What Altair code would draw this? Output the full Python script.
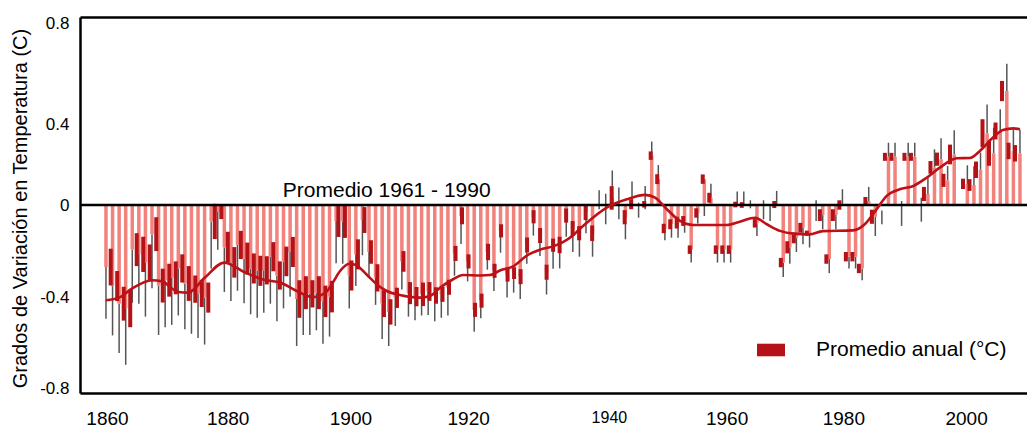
import altair as alt
import pandas as pd

# ---------------- datos ----------------
anios = list(range(1861, 2001))

# centro de la caja roja oscura (promedio anual)
anomalia = [
    -0.264, -0.345, -0.42, -0.44, -0.19, -0.21, -0.245, -0.124, -0.343, -0.32,
    -0.31, -0.27, -0.334, -0.358, -0.376, -0.394, -0.07, -0.03, -0.18, -0.244,
    -0.17, -0.228, -0.27, -0.28, -0.278, -0.22, -0.3, -0.24, -0.2, -0.4,
    -0.373, -0.378, -0.373, -0.41, -0.39, -0.068, -0.07, -0.3, -0.21, -0.064,
    -0.2, -0.31, -0.42, -0.455, -0.395, -0.24, -0.375, -0.39, -0.38, -0.368,
    -0.385, -0.38, -0.35, -0.206, -0.046, -0.24, -0.446, -0.407, -0.2, -0.28,
    -0.11, -0.296, -0.29, -0.305, -0.17, -0.05, -0.13, -0.286, -0.171, -0.17,
    -0.045, -0.1, -0.12, -0.03, -0.12, None, None, 0.03, None, -0.052,
    0.003, None, 0.003, 0.21, 0.11, -0.1, -0.082, -0.075, -0.068, -0.19,
    -0.034, 0.11, 0.031, -0.19, -0.19, -0.19, 0.002, 0.0, None, -0.078,
    None, None, 0.002, -0.245, -0.18, -0.14, -0.097, -0.12, None, -0.043,
    -0.23, -0.043, 0.0, -0.22, -0.22, -0.27, 0.017, -0.05, None, 0.205,
    0.205, None, 0.205, 0.205, None, 0.047, 0.16, 0.195, 0.105, 0.215,
    None, 0.09, 0.085, 0.15, 0.305, 0.22, 0.315, 0.485, 0.23, 0.22,
]

# semialtura de la caja roja oscura
caja = [
    .078, .064, .072, .08, .07, .075, .077, .072, .072, .07,
    .07, .06, .074, .058, .058, .064, .075, .03, .066, .065,
    .06, .068, .064, .064, .06, .062, .06, .063, .064, .08,
    .07, .058, .07, .067, .067, .068, .07, .064, .064, .055,
    .05, .058, .057, .054, .043, .044, .047, .041, .05, .04,
    .035, .032, .032, .032, .036, .03, .03, .03, .035, .03,
    .028, .03, .025, .032, .032, .028, .032, .032, .028, .035,
    .03, .032, .03, .034, .033, None, None, .05, None, .03,
    .021, None, .014, .018, .021, .02, .021, .025, .021, .018,
    .02, .02, .021, .018, .018, .018, .012, .012, None, .018,
    None, None, .015, .02, .026, .023, .021, .011, None, .025,
    .02, .025, .02, .02, .02, .02, .017, .03, None, .017,
    .017, None, .017, .017, None, .03, .027, .028, .028, .042,
    None, .022, .025, .035, .06, .053, .036, .043, .035, .035,
]

# extremos del bigote (barra de error)
bigote_inf = [
    -0.484, -0.555, -0.63, -0.68, -0.416, -0.42, -0.475, -0.354, -0.553, -0.52,
    -0.51, -0.47, -0.529, -0.548, -0.566, -0.594, -0.27, -0.19, -0.37, -0.409,
    -0.365, -0.418, -0.465, -0.48, -0.458, -0.42, -0.495, -0.44, -0.39, -0.6,
    -0.553, -0.553, -0.533, -0.59, -0.56, -0.248, -0.25, -0.44, -0.345, -0.214,
    -0.31, -0.425, -0.57, -0.6, -0.515, -0.36, -0.475, -0.49, -0.47, -0.468,
    -0.495, -0.48, -0.47, -0.301, -0.166, -0.325, -0.539, -0.482, -0.275, -0.366,
    -0.203, -0.394, -0.373, -0.4, -0.25, -0.13, -0.217, -0.381, -0.271, -0.27,
    -0.135, -0.2, -0.22, -0.12, -0.22, -0.018, -0.082, 0.03, -0.061, -0.146,
    0.003, -0.054, -0.018, 0.21, 0.11, -0.15, -0.139, -0.139, -0.118, -0.245,
    -0.079, -0.047, 0.031, -0.245, -0.245, -0.245, 0.002, 0.0, -0.014, -0.132,
    -0.061, -0.068, 0.002, -0.306, -0.25, -0.2, -0.167, -0.181, -0.068, -0.103,
    -0.29, -0.103, 0.0, -0.27, -0.27, -0.32, 0.017, -0.132, -0.082, 0.205,
    0.205, -0.089, 0.205, 0.205, -0.071, 0.047, 0.16, 0.195, 0.105, 0.215,
    None, 0.09, 0.085, 0.15, 0.305, 0.22, 0.315, 0.485, 0.23, 0.22,
]
bigote_sup = [
    -0.264, -0.345, -0.42, -0.44, -0.19, -0.21, -0.245, -0.124, -0.343, -0.32,
    -0.31, -0.27, -0.334, -0.358, -0.376, -0.394, -0.07, -0.03, -0.18, -0.244,
    -0.17, -0.228, -0.27, -0.28, -0.278, -0.22, -0.3, -0.24, -0.2, -0.4,
    -0.373, -0.378, -0.373, -0.41, -0.39, -0.068, -0.07, -0.3, -0.21, -0.064,
    -0.2, -0.31, -0.42, -0.455, -0.395, -0.24, -0.375, -0.39, -0.38, -0.368,
    -0.385, -0.38, -0.35, -0.206, -0.046, -0.24, -0.446, -0.407, -0.2, -0.28,
    -0.11, -0.296, -0.29, -0.305, -0.17, -0.05, -0.13, -0.286, -0.171, -0.17,
    -0.045, -0.1, -0.12, -0.03, -0.12, 0.063, 0.048, 0.147, 0.074, -0.052,
    0.1, 0.01, 0.081, 0.27, 0.17, -0.1, -0.082, -0.075, -0.068, -0.19,
    -0.034, 0.09, 0.09, -0.19, -0.19, -0.19, 0.057, 0.057, 0.02, -0.078,
    0.02, 0.003, 0.06, -0.245, -0.18, -0.14, -0.097, -0.12, 0.02, -0.043,
    -0.23, -0.043, 0.067, -0.22, -0.22, -0.27, 0.077, -0.05, -0.023, 0.265,
    0.265, 0.017, 0.265, 0.265, 0.031, 0.116, 0.237, 0.284, 0.166, 0.318,
    None, 0.169, 0.165, 0.223, 0.428, 0.329, 0.407, 0.601, 0.322, 0.32,
]

# curva suavizada
suav_anio = [1861, 1863, 1865, 1868, 1869.5, 1872, 1873.5, 1876, 1879, 1882,
             1885, 1887.5, 1890, 1892.5, 1894.5, 1895.5, 1896.6, 1898, 1899, 1900.6,
             1902.2, 1903.7, 1905.7, 1908.7, 1910.3, 1911.8, 1913.8, 1915.3, 1918, 1919.4,
             1921, 1923, 1925, 1927, 1929, 1930.5, 1932, 1933, 1935, 1937.6,
             1940.2, 1943, 1944.5, 1946.3, 1948.3, 1950.3, 1955.4, 1957.4, 1959.7, 1961.5,
             1963.5, 1965.5, 1968, 1970, 1974.6, 1976.4, 1978.2, 1979.7, 1981.7, 1983.8,
             1985.8, 1987.8, 1990.4, 1992.4, 1993.9, 1995.9, 1997.4, 1999, 2000]
suav_valor = [-0.405, -0.394, -0.355, -0.32, -0.325, -0.37, -0.373, -0.31, -0.245, -0.285,
              -0.318, -0.33, -0.366, -0.392, -0.37, -0.33, -0.281, -0.25, -0.255, -0.295,
              -0.338, -0.366, -0.383, -0.394, -0.387, -0.352, -0.316, -0.298, -0.3, -0.298,
              -0.278, -0.26, -0.215, -0.19, -0.176, -0.158, -0.13, -0.103, -0.055, -0.004,
              0.024, 0.043, 0.031, -0.018, -0.068, -0.085, -0.085, -0.071, -0.054, -0.082,
              -0.11, -0.122, -0.125, -0.111, -0.108, -0.082, -0.018, 0.038, 0.067, 0.081,
              0.116, 0.159, 0.199, 0.2, 0.23, 0.287, 0.319, 0.326, 0.322]

etiquetas_x = [1860, 1880, 1900, 1920, 1940, 1960, 1980, 2000]
valores_y = [-0.8, -0.4, 0, 0.4, 0.8]
linea_base = [0]
texto_base = ["Promedio 1961 - 1990"]
texto_anio = [1903.7]
serie = "Promedio anual (°C)"

# ---------------- tablas ----------------
anual = pd.DataFrame({"anio": anios, "anomalia": anomalia, "caja": caja,
                      "bigote_inf": bigote_inf, "bigote_sup": bigote_sup})
suave = pd.DataFrame({"anio": suav_anio, "valor": suav_valor})
marcas = pd.DataFrame({"etiqueta": etiquetas_x})
base = pd.DataFrame({"valor": linea_base})
nota = pd.DataFrame({"texto": texto_base, "anio": texto_anio, "valor": linea_base})

FUENTE = "Liberation Sans"
xs = alt.Scale(domain=[1857.05, 2001.07], nice=False, zero=False)
ys = alt.Scale(domain=[-0.8, 0.8], nice=False, zero=False)
xs_etiq = alt.Scale(domain=[1855.6, 2009.93], nice=False, zero=False)

TITULO_Y = "Grados de Variación en Temperatura (C)"
eje_y = alt.Axis(
    values=valores_y,
    labelExpr="datum.value == 0 ? '0' : (datum.value < 0 ? '-' + format(-datum.value, '.1f') : format(datum.value, '.1f'))",
    labelOffset={"condition": [
        {"test": "datum.value > 0.7", "value": 6},
        {"test": "datum.value > 0.3", "value": 13},
        {"test": "datum.value < -0.7", "value": -5},
        {"test": "datum.value < -0.3", "value": -2}], "value": 0},
    ticks=False, grid=False, domainColor="black", domainWidth=2.5,
    labelFont=FUENTE, labelFontSize=17, labelColor="black", labelPadding=11,
    title=TITULO_Y, titleFont=FUENTE, titleFontSize=20, titleFontWeight="normal",
    titleColor="black", titleX=-60, titleY=191, titleAlign="center", titleBaseline="middle",
)
eje_arriba = alt.Axis(orient="top", labels=False, ticks=False, grid=False, title=None,
                      domainColor="black", domainWidth=2.5)
eje_x = alt.Axis(
    orient="bottom", values=etiquetas_x, format="d", ticks=False, grid=False, title=None,
    domainColor="black", domainWidth=2.5, labelFlush=False, labelOverlap=False,
    labelFont="Liberation Sans Narrow, Arial Narrow, Liberation Sans",
    labelFontSize={"condition": {"test": "datum.value == 1940", "value": 16}, "value": 19},
    labelOffset={"condition": [
        {"test": "datum.value == 1920", "value": -7},
        {"test": "datum.value == 1940", "value": 11},
        {"test": "datum.value == 1960", "value": 6},
        {"test": "datum.value == 1880 || datum.value == 1900", "value": -2}], "value": 0},
    labelColor="black", labelPadding=16,
)

bigotes = alt.Chart(anual).transform_filter("isValid(datum.bigote_inf)").mark_rule(
    color="#555555", strokeWidth=1.5
).encode(
    x=alt.X("anio:Q", scale=xs, axis=eje_arriba),
    y=alt.Y("bigote_inf:Q", scale=ys, axis=eje_y),
    y2="bigote_sup:Q",
)

barras = alt.Chart(anual).transform_filter("isValid(datum.anomalia)").transform_calculate(
    cero="0"
).mark_rule(color="#F2827C", strokeWidth=3.5).encode(
    x=alt.X("anio:Q", scale=xs, axis=None),
    y=alt.Y("cero:Q", scale=ys, axis=eje_y),
    y2="anomalia:Q",
)

leyenda = alt.Legend(
    orient="none", legendX=677, legendY=319, title=None, padding=0,
    symbolType="M-1,-0.45L1,-0.45L1,0.45L-1,0.45Z", symbolSize=784, symbolStrokeWidth=0,
    labelFont=FUENTE, labelFontSize=21, labelColor="black", labelOffset=31, labelLimit=0,
)
cajas = alt.Chart(anual).transform_filter("isValid(datum.caja)").transform_calculate(
    caja_inf="datum.anomalia - datum.caja",
    caja_sup="datum.anomalia + datum.caja",
    serie="'" + serie + "'",
).mark_bar(size=4).encode(
    x=alt.X("anio:Q", scale=xs, axis=None),
    y=alt.Y("caja_inf:Q", scale=ys, axis=eje_y),
    y2="caja_sup:Q",
    color=alt.Color("serie:N", scale=alt.Scale(domain=[serie], range=["#B41216"]), legend=leyenda),
)

cero = alt.Chart(base).mark_rule(color="black", strokeWidth=2.5).encode(
    y=alt.Y("valor:Q", scale=ys, axis=eje_y),
)

curva = alt.Chart(suave).mark_line(color="#BE1016", strokeWidth=2.6, interpolate="monotone").encode(
    x=alt.X("anio:Q", scale=xs, axis=None),
    y=alt.Y("valor:Q", scale=ys, axis=eje_y),
)

texto = alt.Chart(nota).mark_text(
    font=FUENTE, fontSize=21, color="black", align="center", baseline="alphabetic", dy=-8
).encode(
    x=alt.X("anio:Q", scale=xs, axis=None),
    y=alt.Y("valor:Q", scale=ys, axis=eje_y),
    text="texto:N",
)

ejex = alt.Chart(marcas).mark_point(opacity=0).encode(
    x=alt.X("etiqueta:Q", scale=xs_etiq, axis=eje_x),
)

chart = alt.layer(bigotes, barras, cajas, cero, curva, texto, ejex).resolve_scale(
    x="independent"
).properties(
    width=947, height=376,
    padding={"left": 72, "top": 9, "right": 0, "bottom": 38},
    autosize=alt.AutoSizeParams(type="none"),
).configure_view(stroke=None).configure(font=FUENTE)

chart.save("out.html", embed_options={"renderer": "svg", "actions": False})
